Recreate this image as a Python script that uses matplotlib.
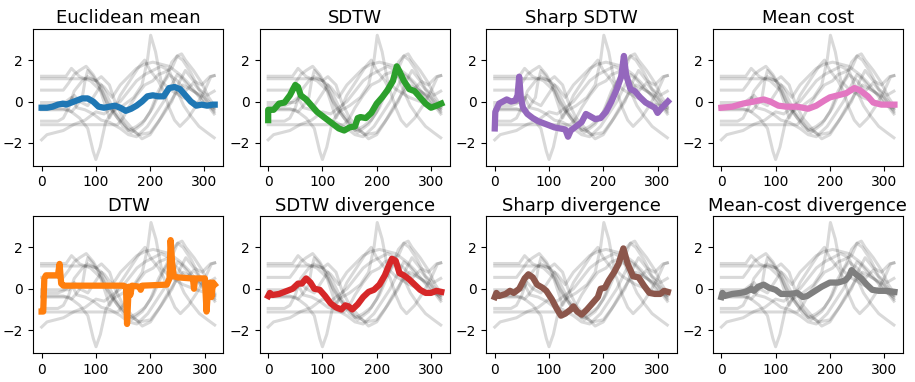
import matplotlib
matplotlib.use("Agg")
import matplotlib.pyplot as plt

# background time series (x, y), same in every panel
g1_x = [0, 45, 55, 70, 90, 110, 125, 140, 160, 180, 200, 220, 240, 255, 265, 280, 295, 310, 318]
g1_y = [1.22, 1.22, 1.6, 1.2, 1.0, 0.5, -0.3, -0.8, -1.3, -1.6, -1.5, -0.8, 0.0, 1.0, 1.5, 1.0, 0.8, 1.2, 1.25]
g2_x = [0, 90, 100, 110, 125, 135, 150, 170, 185, 200, 215, 230, 245, 260, 280, 300, 318]
g2_y = [1.1, 1.1, 1.0, 1.2, 0.8, 0.0, -0.8, -1.4, -1.8, -1.6, -1.0, -0.3, 0.3, 0.8, 0.5, 0.2, -0.5]
g3_x = [0, 40, 50, 60, 70, 82, 95, 110, 120, 135, 150, 165, 185, 200, 215, 230, 240, 250, 260, 275, 290, 305, 318]
g3_y = [0.55, 0.55, 0.9, 1.3, 1.5, 1.7, 1.3, 0.6, 0.0, -0.6, -1.2, -1.5, -1.1, -0.5, 0.5, 1.2, 1.9, 2.2, 2.0, 1.4, 0.6, 0.3, 0.5]
g4_x = [0, 50, 70, 85, 95, 100, 108, 118, 130, 150, 170, 185, 195, 201, 210, 220, 235, 260, 290, 318]
g4_y = [-0.4, -0.4, -0.8, -1.3, -2.4, -2.8, -2.2, -1.0, -0.5, -0.2, 0.2, 0.8, 2.0, 3.2, 2.4, 1.0, 0.6, 0.2, -0.1, -0.3]
g5_x = [0, 30, 40, 50, 60, 75, 85, 100, 115, 130, 145, 160, 175, 190, 205, 220, 235, 255, 270, 285, 300, 318]
g5_y = [-0.95, -0.95, -0.8, -0.3, 0.5, 1.0, 1.2, 1.0, 0.7, 0.2, 0.8, 1.2, 1.6, 1.8, 1.9, 1.8, 1.7, 1.3, 0.9, 0.4, -0.1, -0.4]
g6_x = [0, 140, 150, 160, 175, 190, 205, 215, 225, 240, 250, 258, 265, 280, 295, 308, 318]
g6_y = [-1.12, -1.12, -0.8, -0.3, 0.3, 0.8, 1.0, 1.3, 1.4, 1.6, 2.2, 2.3, 2.0, 1.5, 0.9, 0.2, -0.2]
g7_x = [0, 10, 25, 40, 60, 80, 100, 115, 130, 145, 160, 175, 190, 205, 220, 235, 250, 262, 275, 290, 305, 318]
g7_y = [-1.85, -1.6, -1.5, -1.4, -1.1, -0.9, -0.5, -0.6, -0.3, 0.0, 0.5, 1.0, 1.3, 1.5, 1.7, 1.5, 0.5, -0.2, -0.7, -1.2, -1.5, -1.75]
g8_x = [0, 30, 40, 55, 65, 80, 95, 110, 125, 145, 160, 175, 195, 210, 225, 240, 250, 260, 275, 295, 318]
g8_y = [-0.2, -0.2, -0.1, 0.2, -0.3, -0.4, -0.6, -0.9, -1.0, -1.3, -1.6, -1.7, -1.2, -0.6, 0.0, 0.8, 1.3, 1.1, 0.6, 0.2, -0.6]
g9_x = [0, 40, 55, 65, 75, 80, 85, 95, 105, 115, 125, 135, 145, 160, 170, 180, 190, 200, 215, 225, 235, 245, 255, 270, 285, 300, 312, 318]
g9_y = [-0.35, -0.35, -0.5, -0.2, 0.2, 1.0, 1.5, 1.2, 0.8, 0.0, -0.8, -0.3, 0.3, 0.9, 1.3, 1.7, 2.0, 1.5, 1.0, 0.5, -0.3, -0.9, -1.2, -0.8, -0.2, 0.5, 1.2, 1.25]
g10_x = [0, 50, 60, 70, 85, 95, 110, 120, 135, 150, 160, 175, 190, 205, 215, 225, 235, 250, 265, 280, 295, 308, 318]
g10_y = [-0.05, -0.05, 0.3, 0.0, -0.2, 0.2, 0.8, 0.3, -0.5, -1.0, -1.4, -1.2, -0.9, -0.3, 0.3, 0.9, 1.3, 1.0, 0.5, 0.9, 0.4, 0.0, -0.3]

background = [(g1_x, g1_y), (g2_x, g2_y), (g3_x, g3_y), (g4_x, g4_y), (g5_x, g5_y),
              (g6_x, g6_y), (g7_x, g7_y), (g8_x, g8_y), (g9_x, g9_y), (g10_x, g10_y)]

# barycenters
euclid_x = [0, 10, 20, 30, 40, 45, 55, 65, 75, 85, 95, 105, 115, 125, 135, 145, 155, 165, 175, 185, 195, 205, 215, 225, 235, 245, 255, 265, 275, 285, 295, 305, 315, 319]
euclid_y = [-0.3, -0.3, -0.25, -0.15, -0.1, -0.15, -0.05, 0.05, 0.15, 0.15, 0.0, -0.25, -0.3, -0.25, -0.2, -0.3, -0.45, -0.35, -0.2, 0.0, 0.25, 0.3, 0.25, 0.25, 0.65, 0.7, 0.6, 0.3, 0.0, -0.2, -0.15, -0.2, -0.15, -0.15]
sdtw_x = [0, 0, 2, 10, 20, 30, 40, 50, 55, 60, 70, 80, 90, 100, 110, 120, 130, 140, 150, 160, 165, 170, 180, 190, 200, 210, 220, 230, 237, 243, 250, 260, 270, 280, 290, 300, 310, 319]
sdtw_y = [-0.9, -0.4, -0.4, -0.4, -0.1, -0.05, 0.3, 0.8, 0.7, 0.3, 0.1, -0.2, -0.5, -0.7, -0.9, -1.1, -1.3, -1.4, -1.25, -1.2, -0.8, -0.75, -0.8, -0.55, -0.1, 0.2, 0.55, 1.0, 1.7, 1.4, 1.0, 0.6, 0.5, 0.2, -0.1, -0.3, -0.2, -0.1]
sharp_x = [0, 1, 8, 15, 22, 30, 38, 42, 45, 48, 52, 60, 70, 80, 90, 100, 110, 120, 130, 135, 140, 150, 160, 168, 175, 185, 195, 205, 215, 225, 233, 238, 242, 250, 258, 268, 278, 288, 295, 300, 308, 319]
sharp_y = [-1.3, -0.5, -0.1, 0.0, 0.1, 0.0, 0.05, 0.3, 1.2, 0.2, -0.3, -0.6, -0.8, -0.95, -1.05, -1.15, -1.25, -1.3, -1.35, -1.7, -1.4, -1.2, -1.0, -0.6, -0.7, -0.85, -0.8, -0.5, 0.0, 0.6, 1.2, 2.2, 1.3, 0.6, 0.5, 0.2, -0.05, -0.2, -0.3, -0.55, -0.3, 0.0]
meancost_x = [0, 20, 40, 60, 78, 90, 105, 120, 140, 160, 175, 190, 200, 215, 230, 245, 255, 270, 280, 295, 310, 319]
meancost_y = [-0.3, -0.25, -0.1, 0.0, 0.1, 0.0, -0.2, -0.25, -0.25, -0.35, -0.2, 0.05, 0.2, 0.3, 0.4, 0.65, 0.55, 0.25, -0.05, -0.15, -0.15, -0.15]
dtw_x = [0, 3, 5, 8, 30, 33, 36, 40, 150, 155, 157, 160, 163, 166, 180, 182, 185, 230, 235, 237, 240, 243, 250, 275, 278, 280, 282, 300, 303, 306, 310, 312, 315, 318]
dtw_y = [-1.1, -1.1, 0.5, 0.65, 0.65, 1.2, 0.25, 0.15, 0.15, 0.1, -1.7, 0.1, -0.3, 0.15, 0.1, -0.05, 0.15, 0.2, 0.5, 2.35, 1.2, 0.6, 0.55, 0.5, 0.5, 0.0, 0.5, 0.5, -1.1, 0.0, 0.3, -0.4, 0.3, 0.2]
sdtwdiv_x = [0, 3, 8, 20, 35, 45, 55, 62, 70, 78, 85, 95, 105, 115, 125, 135, 142, 148, 155, 165, 175, 185, 195, 205, 215, 222, 228, 235, 242, 250, 260, 270, 280, 290, 300, 310, 319]
sdtwdiv_y = [-0.35, -0.2, -0.3, -0.25, -0.1, 0.0, 0.25, 0.25, 0.5, 0.3, 0.0, -0.05, -0.35, -0.7, -0.9, -1.0, -0.8, -0.85, -1.0, -0.75, -0.4, -0.15, -0.05, 0.2, 0.65, 1.1, 1.45, 1.35, 0.75, 0.65, 0.45, 0.2, -0.05, -0.2, -0.2, -0.1, -0.15]
sharpdiv_x = [0, 3, 8, 20, 28, 35, 45, 55, 62, 70, 78, 88, 95, 105, 115, 122, 130, 140, 145, 152, 160, 170, 180, 190, 195, 203, 210, 220, 228, 237, 245, 255, 265, 275, 285, 295, 305, 312, 319]
sharpdiv_y = [-0.4, -0.2, -0.35, -0.25, -0.1, -0.2, 0.0, 0.5, 0.7, 0.55, 0.2, 0.05, -0.1, -0.5, -1.0, -1.3, -1.2, -1.0, -0.85, -1.1, -1.25, -1.0, -0.7, -0.4, 0.0, 0.05, 0.4, 0.8, 1.2, 1.95, 1.2, 0.6, 0.55, 0.15, -0.2, -0.25, -0.25, -0.1, -0.15]
mcdiv_x = [0, 2, 6, 20, 35, 45, 55, 60, 68, 78, 88, 100, 110, 125, 140, 150, 158, 170, 185, 200, 215, 228, 235, 240, 248, 258, 268, 278, 290, 305, 319]
mcdiv_y = [-0.4, -0.2, -0.35, -0.25, -0.2, -0.15, 0.0, -0.1, 0.1, 0.2, 0.05, -0.05, -0.25, -0.25, -0.2, -0.4, -0.35, -0.15, 0.1, 0.3, 0.3, 0.4, 0.6, 0.9, 0.7, 0.5, 0.2, -0.05, -0.1, -0.1, -0.15]

titles = ["Euclidean mean", "SDTW", "Sharp SDTW", "Mean cost",
          "DTW", "SDTW divergence", "Sharp divergence", "Mean-cost divergence"]
centers = [(euclid_x, euclid_y), (sdtw_x, sdtw_y), (sharp_x, sharp_y), (meancost_x, meancost_y),
           (dtw_x, dtw_y), (sdtwdiv_x, sdtwdiv_y), (sharpdiv_x, sharpdiv_y), (mcdiv_x, mcdiv_y)]
colors = ["C0", "C2", "C4", "C6", "C1", "C3", "C5", "C7"]

fig, axes = plt.subplots(2, 4, figsize=(9.15, 3.82), dpi=100)
fig.subplots_adjust(left=0.036, right=0.987, top=0.924, bottom=0.076, wspace=0.19, hspace=0.37)

for ax, title, (cx, cy), col in zip(axes.flat, titles, centers, colors):
    for bx, by in background:
        ax.plot(bx, by, color="black", alpha=0.15, linewidth=2.2)
    ax.plot(cx, cy, color=col, linewidth=4.5)
    ax.set_title(title, fontsize=13, pad=4)
    ax.set_xticks([0, 100, 200, 300])
    ax.set_yticks([-2, 0, 2])
    ax.tick_params(labelsize=10)

fig.savefig("out.png", dpi=100)
